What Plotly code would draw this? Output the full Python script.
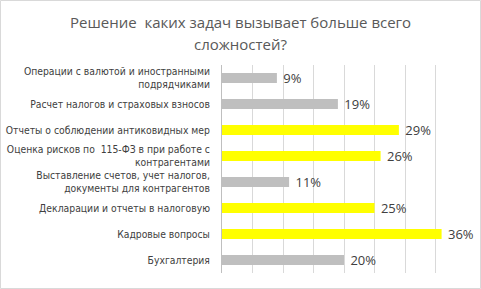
import plotly.graph_objects as go

categories = [
    "Операции с валютой и иностранными<br>подрядчиками",
    "Расчет налогов и страховых взносов",
    "Отчеты о соблюдении антиковидных мер",
    "Оценка рисков по  115-ФЗ в при работе с<br>контрагентами",
    "Выставление счетов, учет налогов,<br>документы для контрагентов",
    "Декларации и отчеты в налоговую",
    "Кадровые вопросы",
    "Бухгалтерия",
]
values = [9, 19, 29, 26, 11, 25, 36, 20]
labels = ["9%", "19%", "29%", "26%", "11%", "25%", "36%", "20%"]
highlight = [False, False, True, True, False, True, True, False]
title_lines = ["Решение  каких задач вызывает больше всего", "сложностей?"]

GREY = "#BFBFBF"
YELLOW = "#FFFF00"
colors = [YELLOW if h else GREY for h in highlight]

W, H = 481, 289
L, R, T, B = 222, 15, 65, 16
pw = W - L - R
ph = H - T - B

fig = go.Figure()
fig.add_trace(go.Bar(
    y=categories, x=values, orientation="h",
    marker=dict(color=colors, line=dict(width=0)),
    text=[" " + t for t in labels], textposition="outside", constraintext="none",
    textfont=dict(family="Open Sans, Liberation Sans, sans-serif", size=13, color="#404040"),
    cliponaxis=False, hoverinfo="skip",
))

fig.add_shape(type="rect", xref="paper", yref="paper",
              x0=(-L + 0.5) / pw, x1=(W - L - 0.5) / pw,
              y0=(-B + 0.5) / ph, y1=(H - B - 0.5) / ph,
              line=dict(color="#D9D9D9", width=1), fillcolor="rgba(0,0,0,0)", layer="below")

for i, line in enumerate(title_lines):
    ycen = 22 + 22 * i
    fig.add_annotation(
        text=line, xref="paper", yref="paper",
        x=(W / 2 - L) / pw, y=1 + (T - ycen) / ph,
        xanchor="center", yanchor="middle", showarrow=False,
        font=dict(family="Open Sans, Liberation Sans, sans-serif", size=15, color="#595959"),
    )

fig.update_layout(
    width=W, height=H,
    margin=dict(l=L, r=R, t=T, b=B, pad=0, autoexpand=False),
    paper_bgcolor="white", plot_bgcolor="white",
    bargap=0.62,
    showlegend=False,
    xaxis=dict(range=[0, 40], dtick=5, showticklabels=False, showgrid=True, automargin=False,
               gridcolor="#D9D9D9", gridwidth=1, zeroline=False, showline=False, fixedrange=True),
    yaxis=dict(autorange="reversed", showline=True, linecolor="#BFBFBF", linewidth=1,
               ticks="", ticklabelstandoff=9, automargin=False,
               tickfont=dict(family="DejaVu Sans Condensed, DejaVu Sans, sans-serif", size=10.3, color="#404040"),
               fixedrange=True),
)

fig.write_html("out.html")
